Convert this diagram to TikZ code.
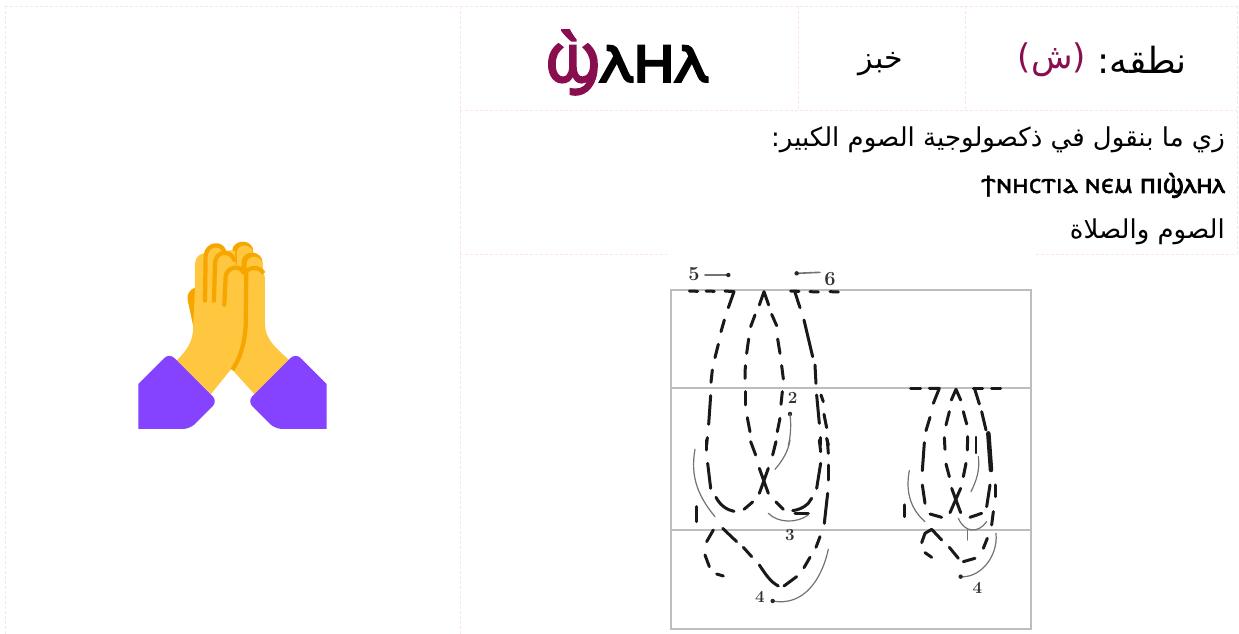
\documentclass[tikz,border=0pt]{standalone}
\usepackage{fontspec}
\TeXXeTstate=1
\newfontfamily\arabicfont[Script=Arabic]{DejaVu Sans}
\newfontfamily\copticfont[FakeBold=1.2]{Noto Sans Coptic}
\newfontfamily\copticheavy[FakeBold=2.6]{Noto Sans Coptic}
\definecolor{gridpink}{HTML}{FBE3EC}
\definecolor{maroon}{HTML}{880E4F}
\definecolor{hand}{HTML}{FFC63F}
\definecolor{handdark}{HTML}{F7A600}
\definecolor{cuff}{HTML}{8542FF}
\definecolor{plotgrey}{HTML}{BDBDBD}
\tikzset{
 gridline/.style={draw=gridpink,line width=.8pt,dash pattern=on 3pt off 2pt},
 dsh/.style={draw=black!90,line width=3pt,line cap=round,line join=round},
 thin curve/.style={draw=black!55,line width=1.2pt,line cap=round},
 plotline/.style={draw=plotgrey,line width=1.8pt},
 arabic/.style={font=\arabicfont,text=black,inner sep=0pt},
 mark num/.style={text=black!80,inner sep=0pt},
}
\newcommand{\numfont}[1]{\fontfamily{lmr}\selectfont\bfseries\fontsize{#1}{#1}\selectfont}
\begin{document}
\begin{tikzpicture}[x=1pt,y=-1pt]
\useasboundingbox (0,0) rectangle (1239,634);
\fill[white] (0,0) rectangle (1239,634);
\draw[gridline] (5,6) -- (1237,6);
\draw[gridline] (460,110) -- (1237,110);
\draw[gridline] (460,254) -- (667,254);
\draw[gridline] (1036,254) -- (1237,254);
\draw[gridline] (5,6) -- (5,634);
\draw[gridline] (460,6) -- (460,634);
\draw[gridline] (798,6) -- (798,110);
\draw[gridline] (965,6) -- (965,110);
\draw[gridline] (1237,6) -- (1237,254);
\node[arabic,font=\arabicfont\fontsize{36}{40}\selectfont,anchor=east] (nutq) at (1187,60)
 {\beginR نطقه:\endR};
\node[arabic,font=\arabicfont\fontsize{34}{40}\selectfont,text=maroon,anchor=east] (shin) at (1086,60)
 {\beginR (ش)\endR};
\node[arabic,font=\arabicfont\fontsize{30}{36}\selectfont] (word) at (881,64) {\beginR خبز\endR};
\node[inner sep=0pt,font=\copticheavy\fontsize{68}{72}\selectfont,anchor=base west] (copt) at (545,82)
 {\textcolor{maroon}{ϣ̀}ⲗⲏⲗ};
\node[arabic,font=\arabicfont\fontsize{26}{30}\selectfont,anchor=east] (l1) at (1225,140)
 {\beginR زي ما بنقول في ذكصولوجية الصوم الكبير:\endR};
\node[inner sep=0pt,font=\copticfont\fontsize{26}{30}\selectfont,anchor=base east] (l2) at (1225,193)
 {ϯⲛⲏⲥⲧⲓⲁ ⲛⲉⲙ {\copticheavy ⲡⲓϣ̀ⲗⲏⲗ}};
\node[arabic,font=\arabicfont\fontsize{26}{30}\selectfont,anchor=east] (l3) at (1225,232)
 {\beginR الصوم والصلاة\endR};
\draw[plotline] (671,290) rectangle (1031,629);
\draw[plotline] (671,388) -- (1031,388);
\draw[plotline] (671,530) -- (1031,530);
\begin{scope}[shift={(660,255)},x=.3333pt,y=-.3333pt]
\foreach \a/\b in {88/108,138/108,392/108,450/110,510/110}{\draw[dsh] (\a,\b) -- ++(25,1);}
\draw[dsh] (195,108) -- (222,110) -- (205,158);
\draw[dsh] (298,150) -- (312,110) -- (326,150);
\draw[dsh] (405,112) -- (420,158);
\draw[dsh] (193,195) -- (183,230);\draw[dsh] (175,268) -- (165,308);
\draw[dsh] (157,345) -- (153,382);\draw[dsh] (152,422) -- (146,508);
\draw[dsh] (142,548) -- (140,570);
\draw[dsh] (285,180) -- (272,215);\draw[dsh] (266,252) -- (260,295);
\draw[dsh] (256,332) -- (255,370);\draw[dsh] (255,410) -- (255,450);
\draw[dsh] (262,488) -- (270,530);
\draw[dsh] (335,178) -- (350,212);\draw[dsh] (353,252) -- (360,295);
\draw[dsh] (365,332) -- (370,372);\draw[dsh] (367,410) -- (363,448);
\draw[dsh] (360,490) -- (352,530);
\draw[dsh] (432,195) -- (458,305);\draw[dsh] (465,330) -- (468,385);
\draw[dsh] (470,420) -- (478,505);\draw[dsh] (483,420) -- (490,440);
\draw[dsh] (492,478) -- (500,518);\draw[dsh] (482,548) -- (482,570);
\draw[dsh] (500,550) -- (505,570);
\node[mark num,font=\numfont{20}] (five) at (102,58) {5};
\node[mark num,font=\numfont{20}] (six) at (510,72) {6};
\node[mark num,font=\numfont{17}] (two) at (398,430) {2};
\draw[thin curve,line width=1.6pt] (135,60) -- (205,60);
\draw[thin curve,line width=1.6pt] (480,52) -- (410,55);
\fill[black!85] (205,60) circle (2.2pt) (410,55) circle (2.2pt) (390,477) circle (2.2pt);
\draw[thin curve] (390,477) .. controls (395,520) and (390,550) .. (385,572);
\end{scope}
\begin{scope}[shift={(660,440)},x=.3333pt,y=-.3333pt]
\draw[dsh] (140,0) -- (140,30);\draw[dsh] (143,70) -- (152,145);
\draw[dsh] (168,172) .. controls (180,195) and (200,210) .. (222,214);
\draw[dsh] (252,208) -- (278,186);
\draw[dsh] (298,85) -- (325,160);\draw[dsh] (325,85) -- (298,160);
\draw[dsh] (348,186) -- (370,208);
\draw[dsh] (398,212) .. controls (425,208) and (445,195) .. (455,175);
\draw[dsh] (470,145) -- (482,70);\draw[dsh] (482,35) -- (478,0);
\draw[dsh] (502,0) -- (505,40);\draw[dsh] (505,75) -- (505,120);
\draw[dsh] (503,160) -- (493,250);\draw[dsh] (480,290) -- (468,322);
\draw[dsh] (450,352) -- (432,383);
\draw[dsh] (410,410) -- (372,438);
\draw[dsh] (355,438) .. controls (330,425) and (315,400) .. (298,375);
\draw[dsh] (275,350) -- (250,322);\draw[dsh] (230,305) -- (188,265);
\draw[dsh] (160,270) -- (140,305);\draw[dsh] (135,345) -- (148,380);
\draw[dsh] (170,402) -- (190,408);\draw[dsh] (110,200) -- (110,245);
\draw[dsh] (272,5) -- (287,45);\draw[dsh] (348,5) -- (338,45);
\draw[dsh] (405,222) -- (445,222);
\draw[thin curve] (105,28) .. controls (90,110) and (115,170) .. (165,230);
\draw[thin curve] (338,483) .. controls (430,500) and (485,420) .. (505,328);
\draw[thin curve] (325,220) .. controls (355,250) and (410,250) .. (445,225);
\draw[thin curve] (390,0) .. controls (385,35) and (365,65) .. (345,88);
\fill[black!85] (338,483) circle (2.2pt);
\node[mark num,font=\numfont{17}] (four) at (300,470) {4};
\node[mark num,font=\numfont{17}] (three) at (390,285) {3};
\end{scope}
\begin{scope}[shift={(890,370)},x=.3333pt,y=-.3333pt]
\draw[dsh] (62,55) -- (92,55);\draw[dsh] (118,55) -- (148,55) -- (130,100);
\draw[dsh] (184,90) -- (198,58) -- (212,90);
\draw[dsh] (250,55) -- (278,55);\draw[dsh] (255,60) -- (268,102);
\draw[dsh] (305,55) -- (332,55);
\draw[dsh] (120,142) -- (108,182);\draw[dsh] (103,218) -- (97,302);
\draw[dsh] (97,345) -- (105,400);
\draw[dsh] (120,432) -- (155,442);
\draw[dsh] (185,355) -- (212,428);\draw[dsh] (212,355) -- (180,428);
\draw[dsh] (240,442) -- (275,430);\draw[dsh] (290,410) -- (300,345);
\draw[dsh] (315,345) -- (315,380);\draw[dsh] (310,425) -- (305,465);
\draw[dsh] (178,125) -- (168,165);\draw[dsh] (163,203) -- (165,238);
\draw[dsh] (168,282) -- (178,320);
\draw[dsh] (220,125) -- (230,162);\draw[dsh] (233,200) -- (232,240);
\draw[dsh] (228,280) -- (220,320);
\draw[dsh] (275,125) -- (288,180);\draw[dsh,line width=4.5pt] (295,190) -- (303,300);
\draw[dsh] (95,518) -- (105,490) -- (125,478) -- (155,510);
\draw[dsh] (105,548) -- (125,562);\draw[dsh] (178,532) -- (205,565);
\draw[dsh] (220,575) -- (255,565);\draw[dsh] (280,535) -- (292,505);
\draw[dsh] (44,405) -- (44,440);\draw[dsh,line width=1.2pt] (258,200) -- (258,250);
\draw[thin curve] (58,302) .. controls (45,370) and (65,420) .. (105,455);
\draw[thin curve] (205,445) .. controls (225,490) and (265,490) .. (290,455);
\draw[thin curve] (232,480) -- (232,510);
\draw[thin curve] (318,490) .. controls (325,560) and (270,625) .. (212,620);
\draw[thin curve] (265,260) .. controls (270,300) and (260,330) .. (243,365);
\fill[black!85] (212,620) circle (2.2pt);
\node[mark num,font=\numfont{17}] (fourb) at (262,655) {4};
\end{scope}
\begin{scope}[shift={(125,230)},x=.3333pt,y=-.3333pt]
\fill[handdark] (212,172) .. controls (195,178) and (185,190) .. (188,210) -- (205,290) -- (230,290) -- (230,172) -- cycle;
\fill[handdark] (322,120) -- (322,60) .. controls (325,27) and (385,25) .. (385,65) -- (385,120) -- cycle;
\fill[hand] (336,130) -- (336,65) .. controls (340,40) and (378,40) .. (385,68) -- (385,130) -- cycle;
\fill[handdark] (350,140) -- (350,95) .. controls (352,58) and (413,58) .. (413,100) -- (413,140) -- cycle;
\fill[hand] (365,140) -- (365,100) .. controls (368,73) and (410,73) .. (413,105) -- (413,140) -- cycle;
\fill[hand] (358,150) .. controls (362,100) and (420,100) .. (420,150) -- (420,280) .. controls (420,320) and (440,345) .. (495,392) -- (388,492) -- (318,415) -- (340,300) -- cycle;
\fill[hand] (155,392) .. controls (190,355) and (205,335) .. (205,280) -- (210,175) -- (210,100)
 .. controls (212,80) and (225,70) .. (240,70) .. controls (245,42) and (290,36) .. (297,65)
 .. controls (310,60) and (320,60) .. (330,62) -- (332,105) .. controls (345,105) and (355,115) .. (358,130)
 -- (355,300) .. controls (350,350) and (340,385) .. (318,418) -- (258,492) -- cycle;
\begin{scope}[line width=4.2pt,line cap=round]
\draw[draw=handdark] (240,212) -- (242,75) .. controls (248,40) and (288,38) .. (297,62);
\draw[draw=handdark] (267,212) -- (270,100) .. controls (272,60) and (318,60) .. (328,90);
\draw[draw=handdark] (298,224) -- (302,140) .. controls (305,108) and (350,105) .. (355,128);
\draw[draw=handdark,line cap=butt] (362,128) .. controls (370,110) and (405,108) .. (416,130);
\draw[draw=handdark,line cap=butt] (364,125) -- (362,290) .. controls (358,345) and (345,385) .. (322,420);
\end{scope}
\fill[cuff] (40,597) -- (40,462) [rounded corners=7pt] -- (133,369) -- (278,514) -- (195,597) [sharp corners] -- cycle;
\fill[cuff] (605,597) -- (605,462) [rounded corners=7pt] -- (512,369) -- (367,514) -- (450,597) [sharp corners] -- cycle;
\end{scope}
\end{tikzpicture}
\end{document}
